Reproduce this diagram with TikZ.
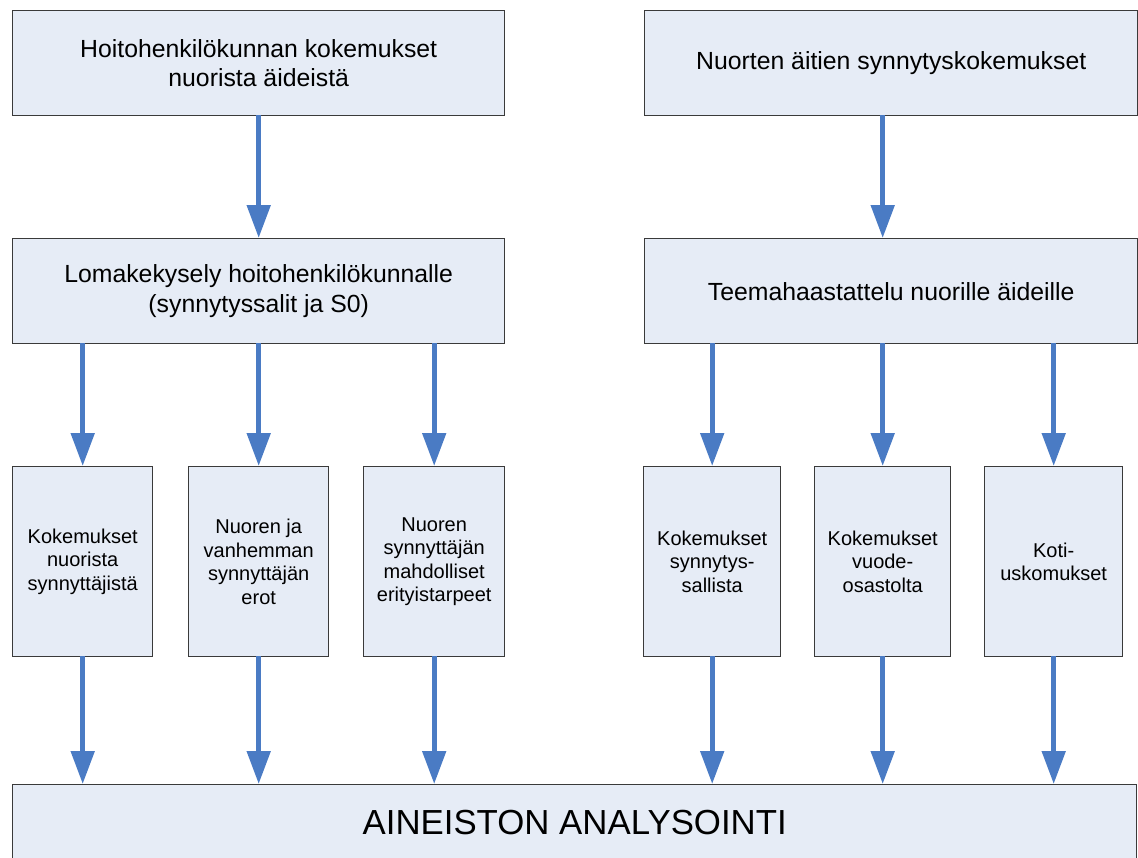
\documentclass[tikz,border=0pt]{standalone}
\usepackage{fontspec}
\setmainfont{Liberation Sans}
\usetikzlibrary{arrows.meta}
\definecolor{boxfill}{HTML}{E6ECF6}
\definecolor{boxline}{HTML}{3A3A3A}
\definecolor{arrowblue}{HTML}{4A7BC4}
\begin{document}
\begin{tikzpicture}[x=1pt,y=-1pt,
  box/.style={draw=boxline,line width=1.4pt,fill=boxfill,inner sep=0pt,anchor=north west,align=center,text=black},
  bigbox/.style={box,minimum width=492pt,minimum height=105pt,font=\fontsize{24.8}{29.5}\selectfont},
  smallbox/.style={box,minimum width=140pt,minimum height=190pt,font=\fontsize{20}{23.5}\selectfont},
  arr/.style={draw=arrowblue,line width=5pt,-{Triangle[length=33pt,width=23pt]}}]
\useasboundingbox (0,0) rectangle (1138,857);
\begin{scope}
\clip (0,0) rectangle (1138,857);
% top row
\node[bigbox] (tl) at (12,10) {Hoitohenkilökunnan kokemukset\\nuorista äideistä};
\node[bigbox,minimum width=493pt] (tr) at (644,10) {Nuorten äitien synnytyskokemukset};
% second row
\node[bigbox] (ml) at (12,238) {Lomakekysely hoitohenkilökunnalle\\(synnytyssalit ja S0)};
\node[bigbox,minimum width=493pt] (mr) at (644,238) {Teemahaastattelu nuorille äideille};
% small boxes
\node[smallbox] (l1) at (12,466) {Kokemukset\\nuorista\\synnyttäjistä};
\node[smallbox] (l2) at (188,466) {Nuoren ja\\vanhemman\\synnyttäjän\\erot};
\node[smallbox,minimum width=141pt] (l3) at (363,466) {Nuoren\\synnyttäjän\\mahdolliset\\erityistarpeet};
\node[smallbox,minimum width=137pt] (r1) at (643,466) {Kokemukset\\synnytys-\\sallista};
\node[smallbox,minimum width=136pt] (r2) at (814,466) {Kokemukset\\vuode-\\osastolta};
\node[smallbox,minimum width=138pt] (r3) at (984,466) {Koti-\\uskomukset};
% bottom box
\node[box,minimum width=1124pt,minimum height=75pt,font=\fontsize{34.8}{41}\selectfont] (bot) at (12,784) {AINEISTON ANALYSOINTI};
% arrows
\draw[arr] (tl.south) ++(0,-1) -- (ml.north);
\draw[arr] (tr.south -| r2.north) ++(0,-1) -- (mr.north -| r2.north);
\foreach \n in {l1,l2,l3}{
  \draw[arr] (ml.south -| \n.north) ++(0,-1) -- (\n.north);
  \draw[arr] (\n.south) ++(0,-1) -- (bot.north -| \n.south);
}
\foreach \n in {r1,r2,r3}{
  \draw[arr] (mr.south -| \n.north) ++(0,-1) -- (\n.north);
  \draw[arr] (\n.south) ++(0,-1) -- (bot.north -| \n.south);
}
\end{scope}
\end{tikzpicture}
\end{document}
